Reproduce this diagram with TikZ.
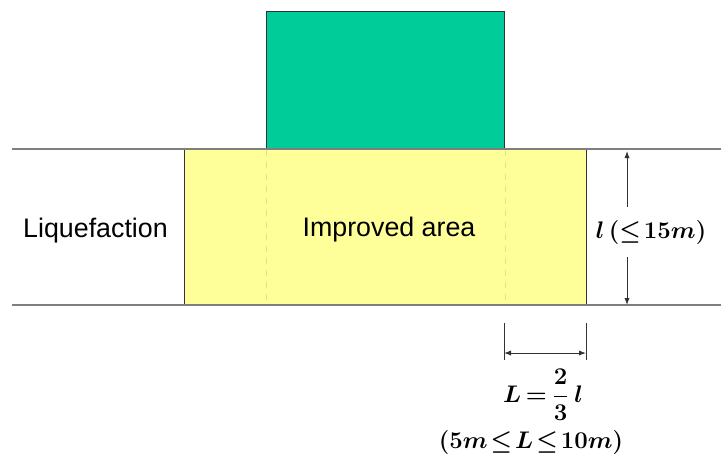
\documentclass[tikz,border=0pt]{standalone}
\usepackage[no-math]{fontspec}
\setsansfont{Liberation Sans}
\usepackage{amsmath}
\usetikzlibrary{arrows.meta}
\definecolor{bldg}{HTML}{00CC99}
\definecolor{impr}{HTML}{FFFF99}
\definecolor{grnd}{HTML}{7F7F7F}
\definecolor{guidec}{HTML}{E2E28C}
\tikzset{
  ground/.style={draw=grnd, line width=0.6pt},
  box/.style={draw=black!80, line width=0.5pt, inner sep=0pt, anchor=north west},
  guide/.style={draw=guidec, dashed, line width=0.5pt},
  dim/.style={draw=black!80, line width=0.5pt},
  dimarrow/.style={dim, -{Latex[length=3.5pt,width=2.6pt]}},
  dimboth/.style={dim, {Latex[length=3.5pt,width=2.6pt]}-{Latex[length=3.5pt,width=2.6pt]}},
  lbl/.style={font=\sffamily\fontsize{13.4}{16}\selectfont, inner sep=0pt},
  eq/.style={font=\fontsize{12.5}{15}\selectfont\boldmath, inner sep=0pt},
}
\begin{document}
\begin{tikzpicture}[x=0.5pt,y=-0.5pt]
\useasboundingbox (0,0) rectangle (721,457);
% improved area and building
\node[box, fill=impr, minimum width=201pt, minimum height=78pt] (imp) at (184,149) {};
\node[box, fill=bldg, minimum width=119pt, minimum height=69pt] (bld) at (266,11) {};
% faint guides
\draw[guide] (bld.south west) -- (bld.south west |- imp.south);
\draw[guide] (bld.south east) -- (bld.south east |- imp.south);
% ground lines
\coordinate (g1l) at (12,149); \coordinate (g1r) at (721,149);
\coordinate (g2l) at (12,305); \coordinate (g2r) at (721,305);
\draw[ground] (g1l) -- (g1r);
\draw[ground] (g2l) -- (g2r);
% labels
\node[lbl] (liq) at (95.5,231) {Liquefaction};
\node[lbl] (ia) at (389,230) {Improved area};
% vertical dimension
\coordinate (vt) at (627,151);
\coordinate (vb) at (627,305);
\node[eq, minimum height=24.5pt] (lv) at (651,232) {$\boldsymbol{l}\,(\le\!15m)$};
\draw[dimarrow] (lv.north -| vt) -- (vt);
\draw[dimarrow] (lv.south -| vb) -- (vb);
% horizontal dimension
\coordinate (ta1) at (504,323); \coordinate (tb1) at (504,360);
\coordinate (ta2) at (586,323); \coordinate (tb2) at (586,360);
\draw[dim] (ta1) -- (tb1);
\draw[dim] (ta2) -- (tb2);
\coordinate (ha) at (504,353); \coordinate (hb) at (586,353);
\draw[dimboth] (ha) -- (hb);
\node[eq] (Leq) at (543,395) {$\thickmuskip=3mu L=\dfrac{2}{3}\,l$};
\node[eq, font=\fontsize{12}{14}\selectfont\boldmath] (Lrange) at (531,442) {$\thickmuskip=2mu (5m \le L \le 10m)$};
\end{tikzpicture}
\end{document}
